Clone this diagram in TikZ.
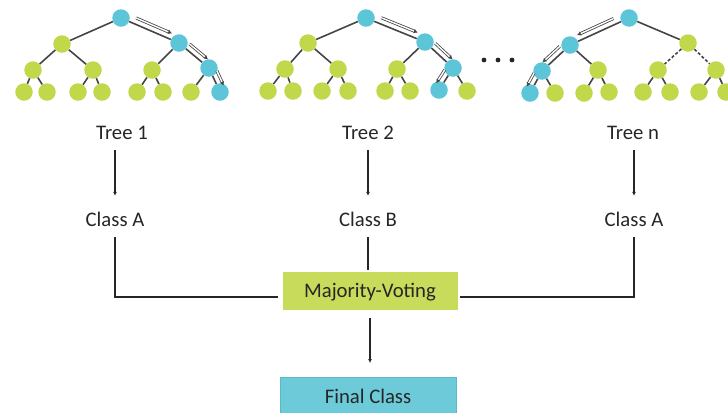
\documentclass[tikz,border=0pt]{standalone}
\usepackage{fontspec}
\setmainfont{Carlito}
\usetikzlibrary{calc,arrows.meta}

\definecolor{leafgreen}{HTML}{C1D84A}
\definecolor{pathblue}{HTML}{5DC5D8}
\definecolor{votegreen}{HTML}{C8DB5B}
\definecolor{finalblue}{HTML}{6DCAD8}
\definecolor{finaledge}{HTML}{5BB9C8}
\definecolor{ink}{HTML}{262626}
\definecolor{edgegray}{HTML}{454545}

\tikzset{
  treenode/.style={circle, fill=leafgreen, minimum size=17.5bp, inner sep=0pt},
  hit/.style={fill=pathblue},
  treeedge/.style={draw=edgegray, line width=1.6bp},
  dashededge/.style={treeedge, dash pattern=on 3bp off 2bp},
  patharrow/.style={draw=edgegray, line width=0.8bp, double=white, double distance=1.4bp,
    -{Latex[length=4bp,width=4.5bp]}},
  txt/.style={font=\fontsize{20.8}{24}\selectfont, text=ink, inner sep=0pt, anchor=base,
    text height=14bp, text depth=4bp},
  flow/.style={draw=ink, line width=1.3bp, -{Latex[length=4bp,width=4bp]}},
  link/.style={draw=ink, line width=1.3bp},
  votebox/.style={fill=votegreen, font=\fontsize{20.8}{24}\selectfont, text=ink, inner sep=0pt,
    text height=13.5bp, text depth=0pt, minimum width=175bp, minimum height=38bp},
  finalbox/.style={fill=finalblue, draw=finaledge, line width=0.6bp, font=\fontsize{20.8}{24}\selectfont,
    text=ink, inner xsep=0pt, inner ysep=12bp, text height=14bp, text depth=4bp,
    minimum width=176bp, anchor=north},
}

\begin{document}
\begin{tikzpicture}[x=1bp,y=-1bp]
\useasboundingbox (0,0) rectangle (728,412);
\clip (0,0) rectangle (728,412);

% ---- tree 1 ----
\node[treenode,hit] (a1) at (121,18) {};
\node[treenode] (a2) at (62,44) {};
\node[treenode,hit] (a3) at (179,43) {};
\node[treenode] (a4) at (33,70) {};
\node[treenode] (a5) at (93,70) {};
\node[treenode] (a6) at (152,70) {};
\node[treenode,hit] (a7) at (209,68) {};
\node[treenode] (a8) at (24,92) {};
\node[treenode] (a9) at (47,92) {};
\node[treenode] (a10) at (78,92) {};
\node[treenode] (a11) at (102,92) {};
\node[treenode] (a12) at (137,92) {};
\node[treenode] (a13) at (163,92) {};
\node[treenode] (a14) at (191,92) {};
\node[treenode,hit] (a15) at (220,92) {};

% ---- tree 2 ----
\node[treenode,hit] (b1) at (366,18) {};
\node[treenode] (b2) at (308,43) {};
\node[treenode,hit] (b3) at (425,42) {};
\node[treenode] (b4) at (285,69) {};
\node[treenode] (b5) at (338,69) {};
\node[treenode] (b6) at (397,69) {};
\node[treenode,hit] (b7) at (453,68) {};
\node[treenode] (b8) at (268,91) {};
\node[treenode] (b9) at (293,91) {};
\node[treenode] (b10) at (322,91) {};
\node[treenode] (b11) at (348,91) {};
\node[treenode] (b12) at (385,91) {};
\node[treenode] (b13) at (410,91) {};
\node[treenode,hit] (b14) at (439,90) {};
\node[treenode] (b15) at (467,91) {};

% ---- tree n ----
\node[treenode,hit] (c1) at (629,18) {};
\node[treenode,hit] (c2) at (570,45) {};
\node[treenode] (c3) at (688,43) {};
\node[treenode,hit] (c4) at (542,71) {};
\node[treenode] (c5) at (598,70) {};
\node[treenode] (c6) at (658,70) {};
\node[treenode] (c7) at (716,70) {};
\node[treenode,hit] (c8) at (530,93) {};
\node[treenode] (c9) at (555,93) {};
\node[treenode] (c10) at (584,93) {};
\node[treenode] (c11) at (609,92) {};
\node[treenode] (c12) at (643,92) {};
\node[treenode] (c13) at (670,92) {};
\node[treenode] (c14) at (699,92) {};
\node[treenode] (c15) at (726,92) {};

% tree edges (heap numbering: children of i are 2i and 2i+1)
\foreach \t in {a,b}{
  \foreach \i in {1,...,7}{
    \pgfmathtruncatemacro{\l}{2*\i}
    \pgfmathtruncatemacro{\r}{2*\i+1}
    \draw[treeedge] (\t\i) -- (\t\l);
    \draw[treeedge] (\t\i) -- (\t\r);
  }
}
\foreach \i/\s in {1/treeedge,2/treeedge,3/dashededge,4/treeedge,5/treeedge,6/treeedge,7/treeedge}{
  \pgfmathtruncatemacro{\l}{2*\i}
  \pgfmathtruncatemacro{\r}{2*\i+1}
  \draw[\s] (c\i) -- (c\l);
  \draw[\s] (c\i) -- (c\r);
}

% decision paths
\foreach \p/\q/\ang in {a1/a3/90, a3/a7/90, a7/a15/90, b1/b3/90, b3/b7/90, b7/b14/-90,
                        c1/c2/-90, c2/c4/-90, c4/c8/-90}{
  \draw[patharrow] ($(\p)!0.22!(\q)!6bp!\ang:(\q)$) -- ($(\p)!0.84!(\q)!6bp!\ang:(\q)$);
}

% ellipsis between the trees
\foreach \x in {484,498,512}{
  \fill[ink] (\x,60) circle (2.4bp);
}

% labels and outcome
\node[txt] (tree1) at (122,139) {Tree 1};
\node[txt] (tree2) at (368,139) {Tree 2};
\node[txt] (treen) at (633,139) {Tree n};
\node[txt] (cls1) at (115,226) {Class A};
\node[txt] (cls2) at (368,226) {Class B};
\node[txt] (cls3) at (634,226) {Class A};

\node[votebox] (vote) at (370,291) {Majority-Voting};
\node[finalbox] (final) at (368,377) {Final Class};

\draw[flow, shorten <=7bp, shorten >=16bp] (tree1.south -| cls1.north) -- (cls1.north);
\draw[flow, shorten <=7bp, shorten >=16bp] (tree2.south -| cls2.north) -- (cls2.north);
\draw[flow, shorten <=7bp, shorten >=16bp] (treen.south -| cls3.north) -- (cls3.north);

\coordinate (jl) at ($(vote.west)+(-4,6)$);
\coordinate (jr) at ($(vote.east)+(2,6)$);
\draw[link, shorten <=7bp] (cls1.south) |- (jl);
\draw[link, shorten <=7bp] (cls3.south) |- (jr);
\draw[link, shorten <=7bp, shorten >=2bp] (cls2.south) -- (cls2.south |- vote.north);
\draw[flow, shorten <=8bp, shorten >=14bp] (vote.south) -- (vote.south |- final.north);
\end{tikzpicture}
\end{document}
